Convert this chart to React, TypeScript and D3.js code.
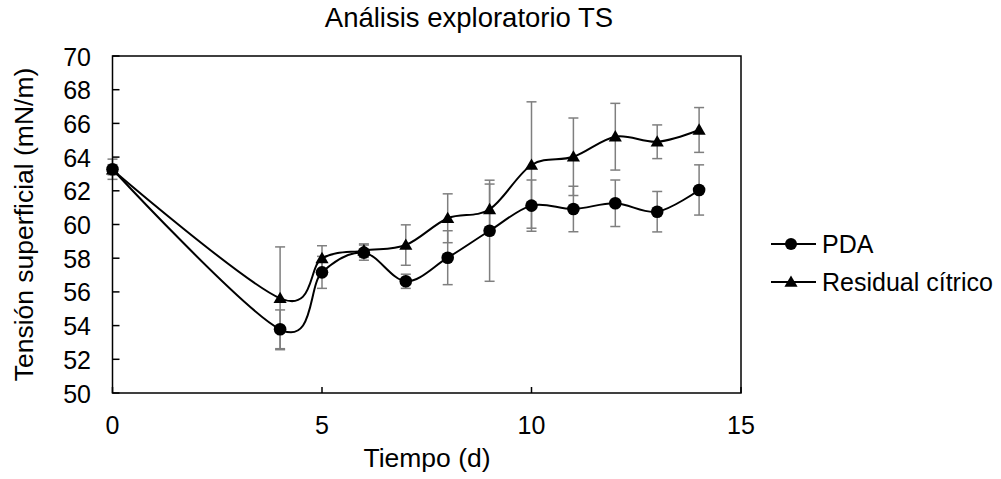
import React from "react";
import * as d3 from "d3";

const times = [0, 4, 5, 6, 7, 8, 9, 10, 11, 12, 13, 14];
const pdaValues = [63.28, 53.78, 57.16, 58.33, 56.63, 58.03, 59.63, 61.12, 60.92, 61.26, 60.76, 62.05];
const pdaErrors = [0.6, 1.15, 0.95, 0.45, 0.42, 1.6, 3.0, 1.52, 1.35, 1.38, 1.2, 1.49];
const resValues = [63.25, 55.62, 57.99, 58.45, 58.78, 60.37, 60.9, 63.53, 64.02, 65.21, 64.91, 65.61];
const resErrors = [0.3, 3.05, 0.75, 0.4, 1.2, 1.45, 1.5, 3.75, 2.3, 1.98, 1.0, 1.33];
const xTicks = [0, 5, 10, 15];
const yTicks = [50, 52, 54, 56, 58, 60, 62, 64, 66, 68, 70];
const seriesNames = ["PDA", "Residual cítrico"];

const W = 1001;
const H = 479;
const M = { left: 112.5, right: 741, top: 56, bottom: 393 };
const FONT = "Liberation Sans, Arial, sans-serif";

export default function App() {
  const x = d3.scaleLinear().domain([0, 15]).range([M.left, M.right]);
  const y = d3.scaleLinear().domain([50, 70]).range([M.bottom, M.top]);
  const line = d3
    .line<[number, number]>()
    .x((d) => x(d[0]))
    .y((d) => y(d[1]))
    .curve(d3.curveCardinal.tension(0));

  const pdaPts = times.map((t, i) => [t, pdaValues[i]] as [number, number]);
  const resPts = times.map((t, i) => [t, resValues[i]] as [number, number]);
  const tri = d3.symbol().type(d3.symbolTriangle).size(75)();

  const errBars = (vals: number[], errs: number[], key: string) =>
    times.map((t, i) => {
      const cx = x(t);
      const y1 = y(vals[i] + errs[i]);
      const y2 = y(vals[i] - errs[i]);
      return (
        <g key={key + i} stroke="#7f7f7f" strokeWidth={1.5}>
          <line x1={cx} x2={cx} y1={y1} y2={y2} />
          <line x1={cx - 5} x2={cx + 5} y1={y1} y2={y1} />
          <line x1={cx - 5} x2={cx + 5} y1={y2} y2={y2} />
        </g>
      );
    });

  return (
    <svg width={W} height={H} style={{ position: "absolute", left: 0, top: 0 }} fontFamily={FONT}>
      <rect x={0} y={0} width={W} height={H} fill="#fff" />
      <text x={469} y={27} fontSize={27.5} textAnchor="middle" fill="#000">
        Análisis exploratorio TS
      </text>
      {errBars(pdaValues, pdaErrors, "p")}
      {errBars(resValues, resErrors, "r")}
      <path d={line(pdaPts) || ""} fill="none" stroke="#000" strokeWidth={2} />
      <path d={line(resPts) || ""} fill="none" stroke="#000" strokeWidth={2} />
      {pdaPts.map((p, i) => (
        <circle key={"pc" + i} cx={x(p[0])} cy={y(p[1])} r={6.3} fill="#000" />
      ))}
      {resPts.map((p, i) => (
        <path key={"rt" + i} d={tri || ""} transform={`translate(${x(p[0])},${y(p[1]) + 1})`} fill="#000" />
      ))}
      <rect
        x={M.left}
        y={M.top}
        width={M.right - M.left}
        height={M.bottom - M.top}
        fill="none"
        stroke="#000"
        strokeWidth={1.5}
      />
      {yTicks.map((t) => (
        <g key={"y" + t}>
          <line x1={M.left} x2={M.left + 7} y1={y(t)} y2={y(t)} stroke="#000" strokeWidth={1.5} />
          <text x={91} y={y(t) + 9.5} fontSize={25} textAnchor="end" fill="#000">
            {t}
          </text>
        </g>
      ))}
      {xTicks.map((t) => (
        <g key={"x" + t}>
          <line x1={x(t)} x2={x(t)} y1={M.bottom} y2={M.bottom - 6} stroke="#000" strokeWidth={1.5} />
          <text x={x(t)} y={434} fontSize={25} textAnchor="middle" fill="#000">
            {t}
          </text>
        </g>
      ))}
      <text x={427} y={467} fontSize={26.5} textAnchor="middle" fill="#000">
        Tiempo (d)
      </text>
      <text
        transform={`translate(33,${(M.top + M.bottom) / 2}) rotate(-90)`}
        fontSize={26.5}
        textAnchor="middle"
        fill="#000"
      >
        Tensión superficial (mN/m)
      </text>
      {seriesNames.map((name, i) => {
        const ly = 244 + i * 38;
        return (
          <g key={name}>
            <line x1={771} x2={816} y1={ly} y2={ly} stroke="#000" strokeWidth={2} />
            {i === 0 ? (
              <circle cx={791} cy={ly} r={6} fill="#000" />
            ) : (
              <path d={tri || ""} transform={`translate(791,${ly + 1})`} fill="#000" />
            )}
            <text x={822} y={ly + 8.7} fontSize={25} fill="#000">
              {name}
            </text>
          </g>
        );
      })}
    </svg>
  );
}
